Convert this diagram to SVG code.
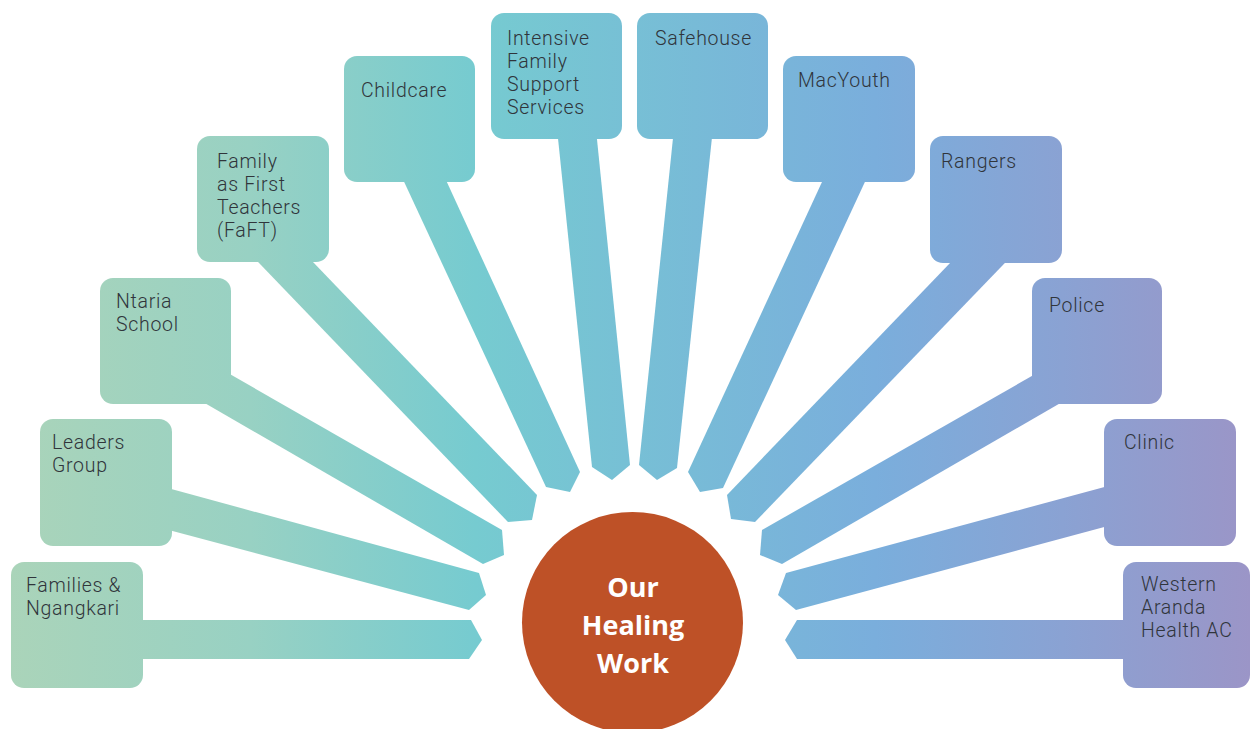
<svg xmlns="http://www.w3.org/2000/svg" width="1250" height="729" viewBox="0 0 1250 729">
  <defs>
    <linearGradient id="g" gradientUnits="userSpaceOnUse" x1="0" y1="0" x2="1250" y2="0">
      <stop offset="0" stop-color="#abd4b9"/>
      <stop offset="0.2" stop-color="#98d1c3"/>
      <stop offset="0.38" stop-color="#76cbd0"/>
      <stop offset="0.5" stop-color="#77c0d5"/>
      <stop offset="0.7" stop-color="#7aaedc"/>
      <stop offset="0.85" stop-color="#8aa2d3"/>
      <stop offset="1" stop-color="#9b95c7"/>
    </linearGradient>
  </defs>
  <style>
    .stem { fill: url(#g); }
    .box { fill: url(#g); }
    .lbl { font-family: Roboto, 'Liberation Sans', sans-serif; font-weight: 300; font-size: 19.5px; fill: #30353b; letter-spacing: 0.7px; }
    .hub { font-family: 'Open Sans', 'Noto Sans', sans-serif; font-weight: 700; font-size: 27px; fill: #ffffff; text-anchor: middle; }
  </style>
  <rect width="1250" height="729" fill="#ffffff"/>
  <g id="connectors">
    <polygon class="stem" points="100,620 471,620 482,640 469,659 100,659"/>
    <polygon class="stem" points="120,475 479,573 486,595 469,610 120,517"/>
    <polygon class="stem" points="165,337 502,530 504,555 483,564 165,380"/>
    <polygon class="stem" points="208,210 263,210 537,495 532,520 508,522"/>
    <polygon class="stem" points="380,130 423,130 580,472 570,492 546,487"/>
    <polygon class="stem" points="553,90 592,90 630,465 612,480 592,467"/>
    <polygon class="stem" points="678,90 717,90 677,468 657,480 639,465"/>
    <polygon class="stem" points="846,130 889,130 723,488 700,492 688,472"/>
    <polygon class="stem" points="1001,210 1056,210 755,522 731,519 727,495"/>
    <polygon class="stem" points="1095,340 1095,383 782,564 760,555 762,530"/>
    <polygon class="stem" points="1160,472 1160,512 796,610 778,595 786,573"/>
    <polygon class="stem" points="1180,620 797,620 785,640 797,659 1180,659"/>
  </g>
  <g id="n-families">
    <rect class="box" x="11" y="562" width="132" height="126" rx="13"/>
    <text class="lbl" x="26" y="592">Families &amp;<tspan x="26" dy="23">Ngangkari</tspan></text>
  </g>
  <g id="n-leaders">
    <rect class="box" x="40" y="419" width="132" height="127" rx="13"/>
    <text class="lbl" x="52" y="449">Leaders<tspan x="52" dy="23">Group</tspan></text>
  </g>
  <g id="n-ntaria">
    <rect class="box" x="100" y="278" width="131" height="126" rx="13"/>
    <text class="lbl" x="116" y="308">Ntaria<tspan x="116" dy="23">School</tspan></text>
  </g>
  <g id="n-faft">
    <rect class="box" x="197" y="136" width="132" height="126" rx="13"/>
    <text class="lbl" x="217" y="168">Family<tspan x="217" dy="23">as First</tspan><tspan x="217" dy="23">Teachers</tspan><tspan x="217" dy="23">(FaFT)</tspan></text>
  </g>
  <g id="n-childcare">
    <rect class="box" x="344" y="56" width="131" height="126" rx="13"/>
    <text class="lbl" x="361" y="97">Childcare</text>
  </g>
  <g id="n-intensive">
    <rect class="box" x="491" y="13" width="131" height="126" rx="13"/>
    <text class="lbl" x="507" y="45">Intensive<tspan x="507" dy="23">Family</tspan><tspan x="507" dy="23">Support</tspan><tspan x="507" dy="23">Services</tspan></text>
  </g>
  <g id="n-safehouse">
    <rect class="box" x="637" y="13" width="131" height="126" rx="13"/>
    <text class="lbl" x="655" y="45">Safehouse</text>
  </g>
  <g id="n-macyouth">
    <rect class="box" x="783" y="56" width="132" height="126" rx="13"/>
    <text class="lbl" x="798" y="87">MacYouth</text>
  </g>
  <g id="n-rangers">
    <rect class="box" x="930" y="136" width="132" height="127" rx="13"/>
    <text class="lbl" x="941" y="168">Rangers</text>
  </g>
  <g id="n-police">
    <rect class="box" x="1032" y="278" width="130" height="126" rx="13"/>
    <text class="lbl" x="1049" y="312">Police</text>
  </g>
  <g id="n-clinic">
    <rect class="box" x="1104" y="419" width="132" height="127" rx="13"/>
    <text class="lbl" x="1124" y="449">Clinic</text>
  </g>
  <g id="n-western">
    <rect class="box" x="1123" y="562" width="127" height="126" rx="13"/>
    <text class="lbl" x="1141" y="591">Western<tspan x="1141" dy="23">Aranda</tspan><tspan x="1141" dy="23">Health AC</tspan></text>
  </g>
  <g id="n-hub">
    <circle cx="632.5" cy="622.5" r="110.5" fill="#be5127"/>
    <text class="hub" x="633" y="597">Our<tspan x="633" dy="38">Healing</tspan><tspan x="633" dy="38">Work</tspan></text>
  </g>
</svg>
